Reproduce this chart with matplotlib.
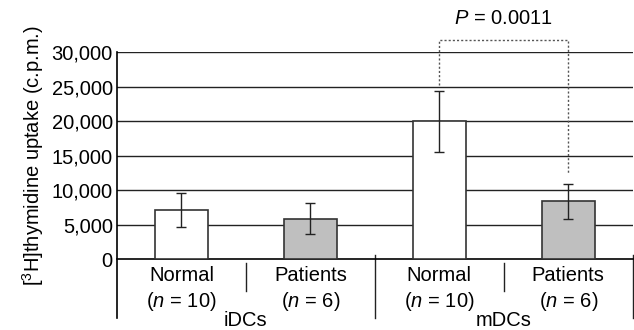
import numpy as np
import matplotlib
matplotlib.use('Agg')
import matplotlib.pyplot as plt

plt.rcParams['font.family'] = 'Liberation Sans'
plt.rcParams['mathtext.fontset'] = 'custom'
plt.rcParams['mathtext.rm'] = 'Liberation Sans'
plt.rcParams['mathtext.it'] = 'Liberation Sans:italic'

# data
categories = ['Normal', 'Patients', 'Normal', 'Patients']
counts = ['10', '6', '10', '6']
groups = ['iDCs', 'mDCs']
means = [7100, 5900, 20000, 8400]
errors = [2450, 2250, 4400, 2500]
colors = ['white', '#bfbfbf', 'white', '#bfbfbf']
yticks = [0, 5000, 10000, 15000, 20000, 25000, 30000]
ptext = '$P$ = 0.0011'

fs = 14.5

fig = plt.figure(figsize=(6.34, 3.30), dpi=100)
ax = fig.add_axes([0.1845, 0.2142, 0.8135, 0.6273])

x = np.arange(len(means))
ax.bar(x, means, width=0.41, color=colors, edgecolor='#333333', linewidth=1.2, zorder=3)
ax.errorbar(x, means, yerr=errors, fmt='none', ecolor='#222222', elinewidth=1,
            capsize=3.5, capthick=1, zorder=4)

ax.set_xlim(-0.5, 3.5)
ax.set_ylim(0, 30000)
ax.set_yticks(yticks)
ax.set_yticklabels([f'{v:,}' for v in yticks], fontsize=fs)
ax.tick_params(axis='y', length=0, pad=3)
ax.set_xticks([])
for v in yticks[1:]:
    ax.axhline(v, color='#222222', lw=1, zorder=1)

for s in ['top', 'right']:
    ax.spines[s].set_visible(False)
ax.spines['bottom'].set_linewidth(1.2)
ax.spines['left'].set_linewidth(1.2)
ax.spines['left'].set_bounds(-8500, 30000)

ax.set_ylabel('[$^3$H]thymidine uptake (c.p.m.)', fontsize=fs, labelpad=4)

# separators below the axis
for xs in [1.5, 3.5]:
    ax.plot([xs, xs], [620, -8500], color='#222222', lw=1, clip_on=False)
for xs in [0.5, 2.5]:
    ax.plot([xs, xs], [-540, -4600], color='#222222', lw=1, clip_on=False)

for i in range(len(categories)):
    ax.text(i, -2400, categories[i], ha='center', va='center', fontsize=fs)
    ax.text(i, -6150, '($n$ = ' + counts[i] + ')', ha='center', va='center', fontsize=fs)
for g in range(len(groups)):
    ax.text(2 * g + 0.5, -8900, groups[g], ha='center', va='center', fontsize=fs)

# significance bracket
ytop = 31750
ax.plot([2, 2, 3, 3], [25250, ytop, ytop, 12350], color='#555555', lw=1,
        linestyle=(0, (1.5, 1.5)), clip_on=False)
ax.text(2.5, 34950, ptext, ha='center', va='center', fontsize=fs)

plt.savefig('out.png', dpi=100)
